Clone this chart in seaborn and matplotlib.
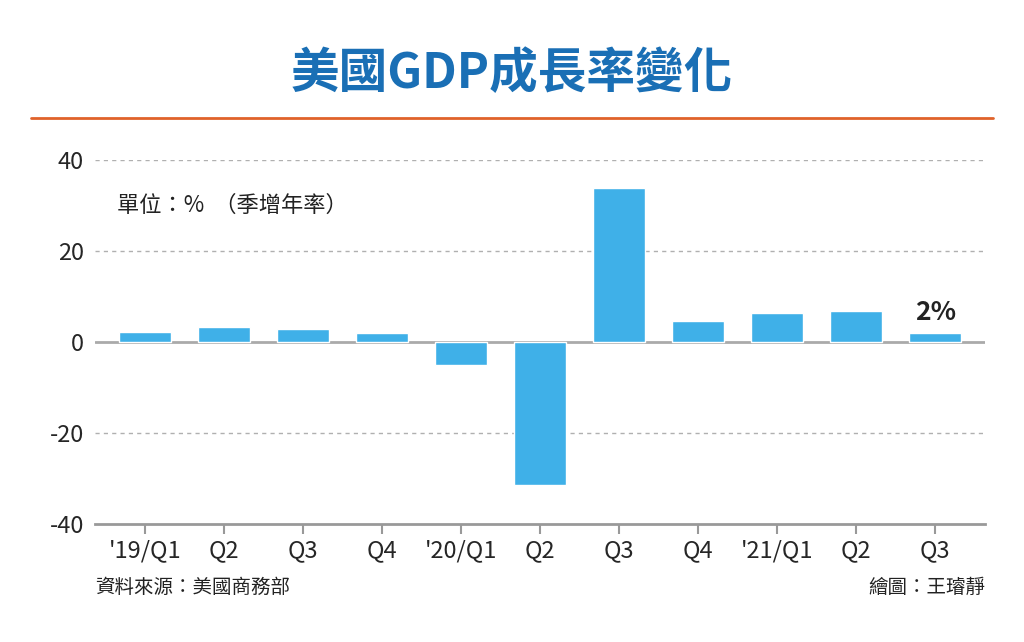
import matplotlib.pyplot as plt
import seaborn as sns
import pandas as pd

quarters = ["'19/Q1", "Q2", "Q3", "Q4", "'20/Q1", "Q2 ", "Q3 ", "Q4 ", "'21/Q1", "Q2  ", "Q3  "]
tick_labels = ["'19/Q1", "Q2", "Q3", "Q4", "'20/Q1", "Q2", "Q3", "Q4", "'21/Q1", "Q2", "Q3"]
growth = [2.2, 3.2, 2.8, 1.9, -5.1, -31.4, 33.8, 4.5, 6.3, 6.7, 2.0]

sns.set_style("white")
plt.rcParams['font.family'] = ['Noto Sans CJK TC', 'DejaVu Sans']

df = pd.DataFrame({'q': quarters, 'g': growth})
fig = plt.figure(figsize=(10.24, 6.42), dpi=100)
ax = fig.add_axes([0.093, 0.184, 0.869, 0.567])

for y in [20, 40, -20]:
    ax.axhline(y, color='#b0b0b0', lw=1, ls=(0, (3, 3)), zorder=0)
ax.axhline(0, color='#aaaaaa', lw=2, zorder=1)
sns.barplot(data=df, x='q', y='g', color='#3fb0e8', saturation=1, width=0.66, ax=ax, zorder=2)

ax.set_ylim(-40, 40)
ax.set_xlim(-0.63, 10.63)
ax.set_yticks([-40, -20, 0, 20, 40])
ax.set_yticklabels(['-40', '-20', '0', '20', '40'], fontsize=17)
ax.set_xticks(range(len(tick_labels)))
ax.set_xticklabels(tick_labels, fontsize=17)
ax.tick_params(axis='x', bottom=True, length=7, width=1.5, color='#999999', pad=4)
ax.tick_params(axis='y', length=0, pad=8)
ax.set_xlabel('')
ax.set_ylabel('')
for s in ['top', 'right', 'left']:
    ax.spines[s].set_visible(False)
ax.spines['bottom'].set_color('#999999')
ax.spines['bottom'].set_linewidth(2)

ax.text(10, growth[-1] + 1.5, '2%', ha='center', va='bottom', fontsize=19, fontweight='bold', color='#222222')
ax.text(-0.35, 30, '單位：%  （季增年率）', fontsize=16, va='center', color='#222222')

fig.text(0.5, 0.885, '美國GDP成長率變化', ha='center', va='center', fontsize=35,
         fontweight='bold', color='#1a6fb5')
fig.add_artist(plt.Line2D([0.03, 0.97], [0.816, 0.816], color='#e0622a', lw=2))
fig.text(0.093, 0.085, '資料來源：美國商務部', fontsize=14, va='center', color='#222222')
fig.text(0.962, 0.085, '繪圖：王璿靜', fontsize=14, va='center', ha='right', color='#222222')

fig.savefig('out.png', dpi=100)
